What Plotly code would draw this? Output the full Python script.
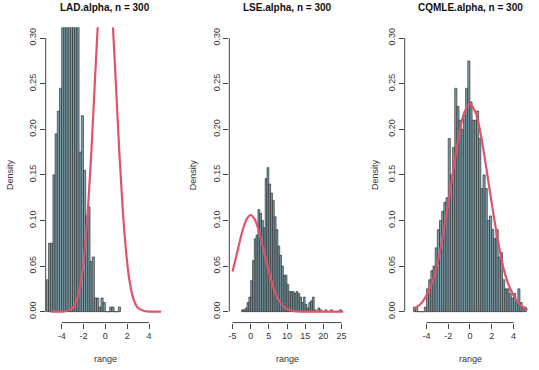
import plotly.graph_objects as go

W, H = 539, 370

# ---- LAD.alpha : histogram (breaks of 0.2) + fitted density ----
lad_breaks = [-5.4, -5.2, -5.0, -4.8, -4.6, -4.4, -4.2, -4.0, -3.8, -3.6, -3.4, -3.2,
              -3.0, -2.8, -2.6, -2.4, -2.2, -2.0, -1.8, -1.6, -1.4, -1.2, -1.0, -0.8,
              -0.6, -0.4, -0.2, 0.0, 0.2, 0.4, 0.6, 0.8, 1.0, 1.2, 1.4]
lad_density = [0.035, 0.075, 0.075, 0.150, 0.195, 0.220, 0.245,
               0.330, 0.375, 0.400, 0.425, 0.440, 0.410, 0.365, 0.320,
               0.175, 0.215, 0.155, 0.105, 0.115, 0.055, 0.060,
               0.015, 0.015, 0.005, 0.015, 0.010, 0.000, 0.000,
               0.005, 0.005, 0.000, 0.000, 0.005]
lad_curve_x = [-5.0, -4.0, -3.5, -3.0, -2.6, -2.2, -1.9, -1.6, -1.3, -1.0, -0.7, -0.4,
               0.0, 0.4, 0.7, 1.0, 1.3, 1.6, 1.9, 2.2, 2.6, 3.0, 3.5, 4.0, 5.1]
lad_curve_y = [0.000, 0.0001, 0.001, 0.004, 0.013, 0.035, 0.066, 0.111, 0.171, 0.242,
               0.312, 0.368, 0.399, 0.368, 0.312, 0.242, 0.171, 0.111, 0.066, 0.035,
               0.013, 0.004, 0.001, 0.0001, 0.000]

# ---- LSE.alpha : histogram (breaks of 0.5) + fitted density ----
lse_breaks = [-2.5, -2.0, -1.5, -1.0, -0.5, 0.0, 0.5, 1.0, 1.5, 2.0, 2.5, 3.0, 3.5,
              4.0, 4.5, 5.0, 5.5, 6.0, 6.5, 7.0, 7.5, 8.0, 8.5, 9.0, 9.5, 10.0,
              10.5, 11.0, 11.5, 12.0, 12.5, 13.0, 13.5, 14.0, 14.5, 15.0, 15.5,
              16.0, 16.5, 17.0, 17.5, 18.0, 18.5, 19.0, 19.5, 20.0, 20.5, 21.0,
              21.5, 22.0, 22.5, 23.0, 23.5, 24.0, 24.5, 25.0]
lse_density = [0.002, 0.002, 0.004, 0.010, 0.016, 0.034, 0.056, 0.080, 0.084,
               0.112, 0.108, 0.100, 0.092, 0.146, 0.158, 0.140, 0.130, 0.122,
               0.104, 0.090, 0.072, 0.062, 0.050, 0.040, 0.040, 0.030,
               0.022, 0.022, 0.022, 0.020, 0.022, 0.020, 0.016, 0.010, 0.016,
               0.008, 0.004, 0.010, 0.012, 0.016, 0.002, 0.000, 0.004, 0.002,
               0.000, 0.000, 0.002, 0.000, 0.000, 0.002, 0.000, 0.000, 0.000,
               0.000, 0.002]
lse_curve_x = [-5, -4, -3, -2, -1, 0, 1, 2, 3, 4, 5, 6, 7, 8, 9, 10, 12, 14, 16, 20, 25.5]
lse_curve_y = [0.044, 0.060, 0.077, 0.092, 0.102, 0.106, 0.102, 0.092, 0.077, 0.060,
               0.044, 0.030, 0.018, 0.011, 0.006, 0.003, 0.0006, 0.0001, 0.0, 0.0, 0.0]

# ---- CQMLE.alpha : histogram (breaks of 0.2) + fitted density ----
cq_breaks = [-5.2, -5.0, -4.8, -4.6, -4.4, -4.2, -4.0, -3.8, -3.6, -3.4, -3.2, -3.0,
             -2.8, -2.6, -2.4, -2.2, -2.0, -1.8, -1.6, -1.4, -1.2, -1.0, -0.8, -0.6,
             -0.4, -0.2, 0.0, 0.2, 0.4, 0.6, 0.8, 1.0, 1.2, 1.4, 1.6, 1.8, 2.0, 2.2,
             2.4, 2.6, 2.8, 3.0, 3.2, 3.4, 3.6, 3.8, 4.0, 4.2, 4.4, 4.6, 4.8, 5.0, 5.2]
cq_density = [0.005, 0.005, 0.000, 0.000, 0.000, 0.005, 0.025, 0.035, 0.045, 0.050,
              0.070, 0.090, 0.100, 0.110, 0.120, 0.125, 0.190, 0.150, 0.180, 0.245,
              0.225, 0.210, 0.200, 0.215, 0.245, 0.275, 0.230, 0.210, 0.210, 0.220,
              0.190, 0.135, 0.150, 0.135, 0.100, 0.105, 0.090, 0.080, 0.090, 0.060,
              0.065, 0.035, 0.025, 0.025, 0.020, 0.015, 0.020, 0.010, 0.025, 0.010,
              0.005, 0.005]
cq_curve_x = [-5.2, -4.5, -4.0, -3.5, -3.0, -2.5, -2.0, -1.5, -1.0, -0.5, 0.0,
              0.5, 1.0, 1.5, 2.0, 2.5, 3.0, 3.5, 4.0, 4.5, 5.3]
cq_curve_y = [0.003, 0.009, 0.018, 0.031, 0.052, 0.083, 0.119, 0.158, 0.194, 0.219,
              0.228, 0.219, 0.194, 0.158, 0.119, 0.083, 0.052, 0.031, 0.018, 0.009,
              0.002]

y_ticks = [0.0, 0.05, 0.10, 0.15, 0.20, 0.25, 0.30]

FONT = "Liberation Sans, Arial, Helvetica, sans-serif"
BAR_FILL = "#7c9ea8"
BAR_EDGE = "#222222"
CURVE_COL = "#df536b"
AXIS_COL = "#444444"

# left / right / mid / ylab are pixel positions measured on the reference
panels = [
    dict(title="LAD.alpha, n = 300", breaks=lad_breaks, dens=lad_density,
         cx=lad_curve_x, cy=lad_curve_y, left=45.7, right=164.3,
         xr=[-5.46, 5.40], xticks=[-4, -2, 0, 2, 4], mid=105.0, ylab=10.0),
    dict(title="LSE.alpha, n = 300", breaks=lse_breaks, dens=lse_density,
         cx=lse_curve_x, cy=lse_curve_y, left=229.3, right=346.0,
         xr=[-5.88, 26.24], xticks=[-5, 0, 5, 10, 15, 20, 25], mid=287.5, ylab=193.3),
    dict(title="CQMLE.alpha, n = 300", breaks=cq_breaks, dens=cq_density,
         cx=cq_curve_x, cy=cq_curve_y, left=404.7, right=535.3,
         xr=[-6.0, 6.01], xticks=[-4, -2, 0, 2, 4], mid=470.0, ylab=375.0),
]

# plot region (pixels from top) for y in [-0.012, 0.312]
TOP, BOTTOM = 27.2, 322.6


def fx(px):
    return px / W


def fy(px):
    return 1 - px / H


fig = go.Figure()
shapes = []
annotations = []

for i, p in enumerate(panels):
    n = "" if i == 0 else str(i + 1)
    xa, ya = "x" + n, "y" + n
    br = p["breaks"]
    centers = [(br[k] + br[k + 1]) / 2 for k in range(len(p["dens"]))]
    widths = [br[k + 1] - br[k] for k in range(len(p["dens"]))]

    fig.add_trace(go.Bar(x=centers, y=p["dens"], width=widths, xaxis=xa, yaxis=ya,
                         marker=dict(color=BAR_FILL, line=dict(color=BAR_EDGE, width=0.6)),
                         showlegend=False, hoverinfo="skip"))
    fig.add_trace(go.Scatter(x=p["cx"], y=p["cy"], xaxis=xa, yaxis=ya, mode="lines",
                             line=dict(color=CURVE_COL, width=2.2, shape="spline", smoothing=1),
                             showlegend=False, hoverinfo="skip"))

    fig.layout["xaxis" + n] = dict(
        domain=[fx(p["left"]), fx(p["right"])], range=p["xr"], anchor=ya,
        showgrid=False, zeroline=False, showline=False,
        tickmode="array", tickvals=p["xticks"], ticktext=[str(v) for v in p["xticks"]],
        ticks="outside", ticklen=5, tickcolor=AXIS_COL,
        tickfont=dict(family=FONT, size=9, color="#333333"))
    fig.layout["yaxis" + n] = dict(
        domain=[fy(BOTTOM), fy(TOP)], range=[-0.012, 0.312], anchor=xa,
        showgrid=False, zeroline=False, showline=False,
        tickmode="array", tickvals=y_ticks, ticktext=["%.2f" % v for v in y_ticks],
        ticks="outside", ticklen=5, tickcolor=AXIS_COL, tickangle=-90,
        tickfont=dict(family=FONT, size=9, color="#333333"))

    # R-style axis lines spanning first to last tick
    shapes.append(dict(type="line", xref=xa, yref=ya + " domain",
                       x0=p["xticks"][0], x1=p["xticks"][-1], y0=0, y1=0,
                       line=dict(color=AXIS_COL, width=1)))
    shapes.append(dict(type="line", xref=xa + " domain", yref=ya,
                       x0=0, x1=0, y0=y_ticks[0], y1=y_ticks[-1],
                       line=dict(color=AXIS_COL, width=1)))

    annotations.append(dict(text="<b>" + p["title"] + "</b>", xref="paper", yref="paper",
                            x=fx(p["mid"]), y=fy(7), xanchor="center", yanchor="middle",
                            showarrow=False, font=dict(family=FONT, size=10, color="#111111")))
    annotations.append(dict(text="range", xref="paper", yref="paper",
                            x=fx(p["mid"]), y=fy(359), xanchor="center", yanchor="middle",
                            showarrow=False, font=dict(family=FONT, size=9, color="#333333")))
    annotations.append(dict(text="Density", xref="paper", yref="paper", textangle=-90,
                            x=fx(p["ylab"]), y=fy(175), xanchor="center", yanchor="middle",
                            showarrow=False, font=dict(family=FONT, size=9, color="#333333")))

fig.update_layout(width=W, height=H, margin=dict(l=0, r=0, t=0, b=0),
                  paper_bgcolor="white", plot_bgcolor="white", barmode="overlay",
                  shapes=shapes, annotations=annotations)

# drop the default 8px page margin so the figure sits at the window corner
fig.write_html("out.html", config={"displayModeBar": False},
               post_script="document.body.style.margin = '0';")
